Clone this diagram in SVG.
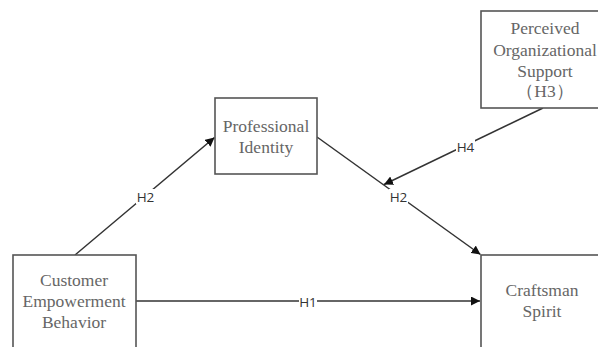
<svg xmlns="http://www.w3.org/2000/svg" width="598" height="347" viewBox="0 0 598 347">
<style>
.box{fill:#fff;stroke:#555;stroke-width:1.6}
.t{font-family:"Liberation Serif","Times New Roman",serif;font-size:17.5px;fill:#666;text-anchor:middle}
.ln{stroke:#333;stroke-width:1.5;fill:none;marker-end:url(#ah)}
.lb{font-family:"Open Sans","DejaVu Sans",sans-serif;font-size:13.5px;fill:#333;text-anchor:middle}
.bg{fill:#fff}
</style>
<defs>
<marker id="ah" viewBox="0 0 10 10" refX="10" refY="5" markerWidth="9" markerHeight="9" markerUnits="userSpaceOnUse" orient="auto">
<path d="M0,0 L10,5 L0,10 z" fill="#111"/>
</marker>
</defs>
<rect width="598" height="347" fill="#fff"/>
<g id="connectors">
<line class="ln" x1="136" y1="301" x2="480" y2="301"/>
<line class="ln" x1="75" y1="255" x2="214.5" y2="137.5"/>
<line class="ln" x1="317" y1="137" x2="480.5" y2="254.5"/>
<line class="ln" x1="543" y1="108" x2="384" y2="184.5"/>
<rect class="bg" x="299" y="294" width="18" height="15"/>
<text class="lb" x="308" y="307">H1</text>
<rect class="bg" x="136" y="189" width="19" height="15"/>
<text class="lb" x="145.5" y="201.5">H2</text>
<rect class="bg" x="389" y="189" width="19" height="15"/>
<text class="lb" x="398.5" y="201.5">H2</text>
<rect class="bg" x="456" y="139" width="19" height="15"/>
<text class="lb" x="465.5" y="151.5">H4</text>
</g>
<g id="perceived">
<rect class="box" x="481" y="11" width="130" height="97"/>
<text class="t" x="545" y="34">Perceived</text>
<text class="t" x="545" y="56">Organizational</text>
<text class="t" x="545" y="77">Support</text>
<text class="t" x="545" y="97">（H3）</text>
</g>
<g id="professional">
<rect class="box" x="215" y="98" width="102" height="76"/>
<text class="t" x="266" y="132">Professional</text>
<text class="t" x="266" y="153">Identity</text>
</g>
<g id="customer">
<rect class="box" x="13" y="255" width="123" height="100"/>
<text class="t" x="74" y="286">Customer</text>
<text class="t" x="74" y="307">Empowerment</text>
<text class="t" x="74" y="328">Behavior</text>
</g>
<g id="craftsman">
<rect class="box" x="481" y="255" width="125" height="100"/>
<text class="t" x="542" y="296">Craftsman</text>
<text class="t" x="542" y="317">Spirit</text>
</g>
</svg>
